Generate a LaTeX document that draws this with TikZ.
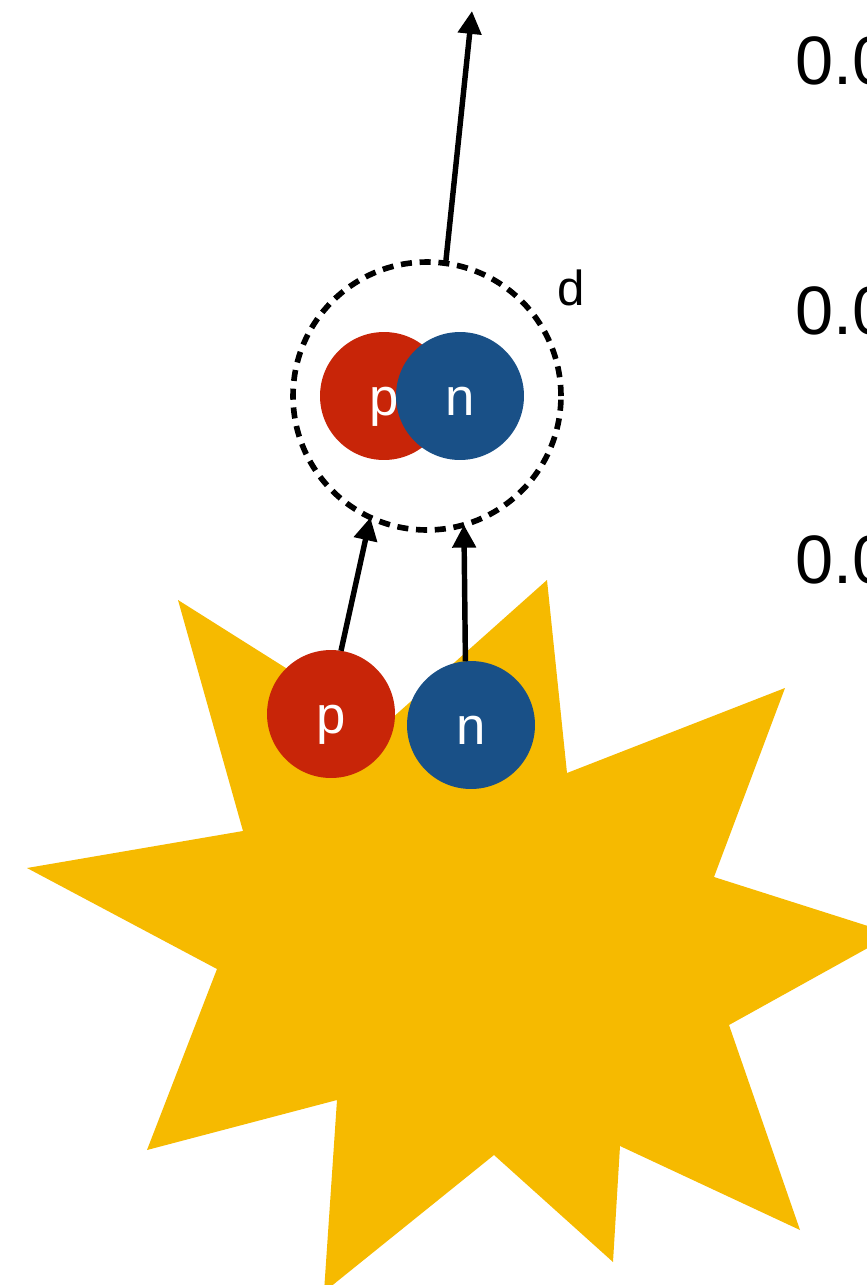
\documentclass[tikz,border=0pt]{standalone}
\usepackage{fontspec}
\setmainfont{Liberation Sans}
\usetikzlibrary{arrows.meta, positioning}

\definecolor{protonred}{RGB}{200,37,8}
\definecolor{neutronblue}{RGB}{25,80,135}
\definecolor{blastyellow}{RGB}{246,186,0}

\begin{document}
\begin{tikzpicture}[x=0.02cm, y=-0.02cm,
    proton/.style={circle, fill=protonred, text=white, minimum size=2.56cm,
        inner sep=0pt, outer sep=0pt, text height=24pt, text depth=1.3pt,
        font=\fontsize{30}{30}\selectfont},
    neutron/.style={proton, fill=neutronblue},
    arr/.style={line width=3.1pt, -{Triangle[length=13pt, width=13pt]}}]

    \useasboundingbox (0,0) rectangle (866,1285);

    % Draw the explosion (star)
    \fill[blastyellow] (178,600) -- (381,728) -- (547,580) -- (567,773) -- (785,688)
        -- (714,877) -- (893,934) -- (729,1025) -- (800,1230) -- (620,1146)
        -- (613,1262) -- (494,1155) -- (324,1292) -- (337,1100) -- (147,1150)
        -- (217,969) -- (27,868) -- (243,831) -- cycle;

    % Draw the deuteron
    \node[circle, draw, line width=3.2pt, dash pattern=on 6.3pt off 4.4pt,
        minimum size=5.36cm, inner sep=0pt, outer sep=0pt] (deut) at (427,396) {};
    \node[proton] (pd) at (384,396) {p};
    \node[neutron] (nd) at (460,396) {n};
    \node[font=\fontsize{28}{28}\selectfont] (dlabel) at (571,288) {d};

    % Free proton and neutron
    \node[proton] (pf) at (331,714) {p};
    \node[neutron] (nf) at (471,725) {n};

    % Arrows
    \draw[arr] (pf.81) -- (deut.245);
    \draw[arr] (nf.95) -- (deut.286);
    \coordinate (top) at (472,11);
    \draw[arr] (deut.82) -- (top);

    % Numbers on the right
    \foreach \y/\name in {84/ya, 334/yb, 583/yc}
        \node[anchor=base west, inner sep=0pt, font=\fontsize{39}{39}\selectfont]
            (\name) at (795,\y) {0.0};

\end{tikzpicture}
\end{document}
